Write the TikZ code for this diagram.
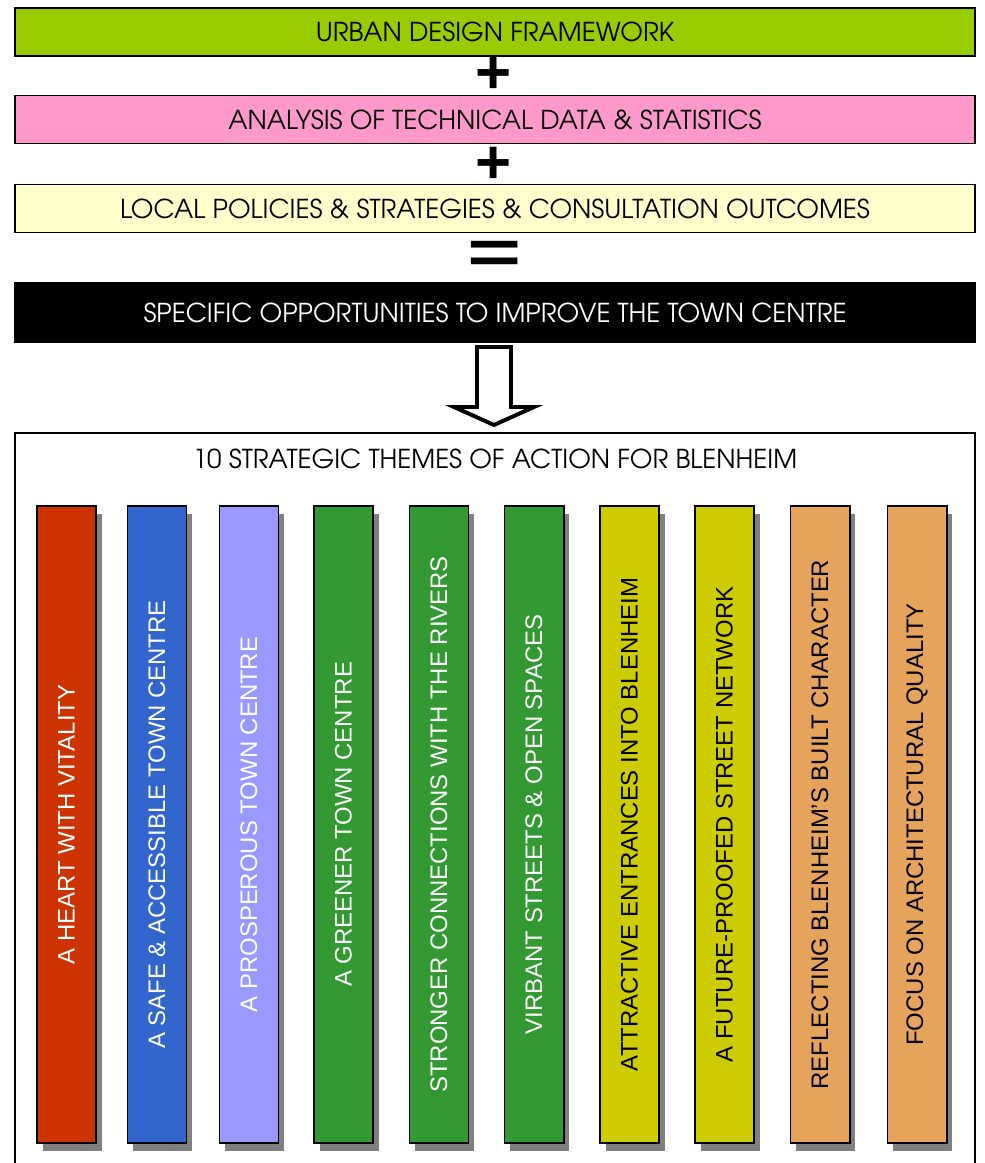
\documentclass[tikz,border=0pt]{standalone}
\usepackage{fontspec}
\usetikzlibrary{shadows}
\newfontfamily\headfont{texgyreadventor-regular.otf}
\newfontfamily\themefont{Liberation Sans}
\definecolor{urbangreen}{HTML}{99CC00}
\definecolor{analysispink}{HTML}{FF99CC}
\definecolor{localyellow}{HTML}{FFFFCC}
\definecolor{heartred}{HTML}{CC3300}
\definecolor{safeblue}{HTML}{3366CC}
\definecolor{prosperlilac}{HTML}{9999FF}
\definecolor{greenergreen}{HTML}{339933}
\definecolor{entranceolive}{HTML}{CCCC00}
\definecolor{builtorange}{HTML}{E5A35B}

\begin{document}
\begin{tikzpicture}[x=0.025cm,y=-0.025cm,
    bar/.style ={draw, line width=1.4pt, minimum width=24cm, minimum height=1.2cm,
      inner sep=0pt, font=\headfont\fontsize{18.5}{22}\selectfont},
    theme/.style ={draw, line width=1.4pt, minimum width=1.475cm, minimum height=15.925cm,
      inner sep=0pt, font=\themefont\fontsize{17}{20}\selectfont,
      drop shadow={shadow xshift=4.25pt, shadow yshift=-5.7pt, fill=gray, opacity=1}},
    sign/.style ={inner sep=0pt, font=\themefont\bfseries\fontsize{44}{44}\selectfont}]
   \useasboundingbox (0,0) rectangle (985,1163);

   \node[bar,fill=urbangreen] (urban) at (495,32) {URBAN DESIGN FRAMEWORK};
   \node[sign] (plus1) at (494,75) {+};
   \node[bar,fill=analysispink] (analysis) at (495,119.5) {ANALYSIS OF TECHNICAL DATA \& STATISTICS};
   \node[sign] (plus2) at (494,165) {+};
   \node[bar,fill=localyellow] (local) at (495,208.5) {LOCAL POLICIES \& STRATEGIES \& CONSULTATION OUTCOMES};
   \node[sign] (equals) at (495,257) {\scalebox{1.5}[1]{=}};
   \node[bar,fill=black,text=white,minimum height=1.475cm] (specific) at (495,312.5)
      {SPECIFIC OPPORTUNITIES TO IMPROVE THE TOWN CENTRE};

   % big hollow arrow down to the themes
   \draw[line width=2.8pt,fill=white] (477,347) -- (511,347) -- (511,407) -- (534,407)
      -- (494,425) -- (454,407) -- (477,407) -- cycle;

   \node[draw,line width=1.4pt,minimum width=24cm,minimum height=19cm,anchor=north] (themes) at (495,432) {};
   \node[font=\headfont\fontsize{18.5}{22}\selectfont] (title) at (495,458.5) {10 STRATEGIC THEMES OF ACTION FOR BLENHEIM};

   \node[theme,fill=heartred,text=white] (t1) at (66.5,824.5) {\rotatebox{90}{A HEART WITH VITALITY}};
   \node[theme,fill=safeblue,text=white] (t2) at (157,824.5) {\rotatebox{90}{A SAFE \& ACCESSIBLE TOWN CENTRE}};
   \node[theme,fill=prosperlilac,text=white] (t3) at (249,824.5) {\rotatebox{90}{A PROSPEROUS TOWN CENTRE}};
   \node[theme,fill=greenergreen,text=white] (t4) at (343.5,824.5) {\rotatebox{90}{A GREENER TOWN CENTRE}};
   \node[theme,fill=greenergreen,text=white] (t5) at (439,824.5) {\rotatebox{90}{STRONGER CONNECTIONS WITH THE RIVERS}};
   \node[theme,fill=greenergreen,text=white] (t6) at (534,824.5) {\rotatebox{90}{VIRBANT STREETS \& OPEN SPACES}};
   \node[theme,fill=entranceolive] (t7) at (629.5,824.5) {\rotatebox{90}{ATTRACTIVE ENTRANCES INTO BLENHEIM}};
   \node[theme,fill=entranceolive] (t8) at (724.5,824.5) {\rotatebox{90}{A FUTURE-PROOFED STREET NETWORK}};
   \node[theme,fill=builtorange] (t9) at (820,824.5) {\rotatebox{90}{REFLECTING BLENHEIM’S BUILT CHARACTER}};
   \node[theme,fill=builtorange] (t10) at (917,824.5) {\rotatebox{90}{FOCUS ON ARCHITECTURAL QUALITY}};
 \end{tikzpicture}
\end{document}
